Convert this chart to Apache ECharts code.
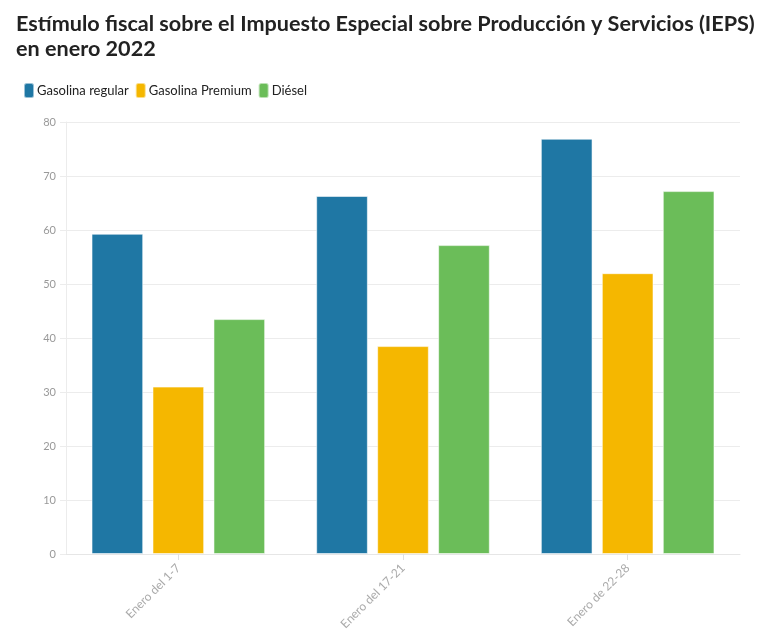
<!DOCTYPE html>
<html><head><meta charset="utf-8">
<script src="https://cdn.jsdelivr.net/npm/echarts@6/dist/echarts.min.js"></script>
<style>html,body{margin:0;padding:0;background:#fff}#c{width:778px;height:636px}</style>
</head><body><div id="c"></div>
<script>
const categories = ["Enero del 1-7", "Enero del 17-21", "Enero de 22-28"];
const seriesNames = ["Gasolina regular", "Gasolina Premium", "Diésel"];
const regular = [59.3, 66.3, 76.9];
const premium = [31.0, 38.5, 52.0];
const diesel = [43.5, 57.2, 67.2];
const yTicks = [0, 10, 20, 30, 40, 50, 60, 70, 80];
const colors = ["#1f77a4", "#f5b700", "#6bbd59"];

const chart = echarts.init(document.getElementById('c'));
const values = [regular, premium, diesel];
chart.setOption({
  animation: false,
  title: {
    text: "Estímulo fiscal sobre el Impuesto Especial sobre Producción y Servicios (IEPS)\nen enero 2022",
    left: 11, top: 7,
    textStyle: { fontFamily: "Lato", fontWeight: "bold", fontSize: 21.6, color: "#222", lineHeight: 25 }
  },
  legend: {
    left: 18, top: 77, itemWidth: 10, itemHeight: 15, itemGap: 6,
    icon: 'roundRect',
    textStyle: { fontFamily: "Lato", fontSize: 13, color: "#222", padding: [0, 0, 0, -2] },
    data: seriesNames
  },
  grid: { left: 66, right: 38, top: 122, bottom: 82 },
  xAxis: {
    type: 'category', data: categories,
    axisLine: { lineStyle: { color: '#e6e6e6' } },
    axisTick: { show: true, alignWithLabel: true, length: 6, lineStyle: { color: '#e0e0e0' } },
    axisLabel: { rotate: 45, color: '#aaa', fontFamily: "Lato", fontSize: 12, margin: 12 }
  },
  yAxis: {
    type: 'value', min: 0, max: 80, interval: 10,
    axisLine: { show: true, lineStyle: { color: '#ececec' } },
    axisTick: { show: true, length: 6, lineStyle: { color: '#ececec' } },
    splitLine: { lineStyle: { color: '#ececec' } },
    axisLabel: { color: '#999', fontFamily: "Lato", fontSize: 11, margin: 10 }
  },
  series: seriesNames.map((n, i) => ({
    name: n, type: 'bar', data: values[i],
    barWidth: '23%', barGap: '18%',
    itemStyle: { color: colors[i], borderColor: 'rgba(255,255,255,0.55)', borderWidth: 1 }
  }))
});
</script></body></html>
